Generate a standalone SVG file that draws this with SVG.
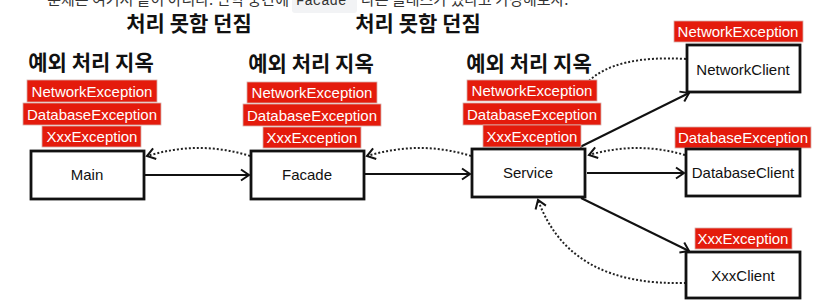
<svg xmlns="http://www.w3.org/2000/svg" width="815" height="302" viewBox="0 0 815 302">
<defs>
<style>
.bg{fill:#ffffff}
.box{fill:#ffffff;stroke:#111111;stroke-width:2.8}
.nt{font-family:"Liberation Sans",Arial,sans-serif;font-size:15px;fill:#111111;text-anchor:middle}
.lab{fill:#e41b0c;stroke:#d8b0ab;stroke-width:0.8}
.lt{font-family:"Liberation Sans",Arial,sans-serif;font-size:15px;fill:#ffffff;text-anchor:middle}
.hd{font-family:"Noto Sans CJK KR","Noto Sans",sans-serif;font-weight:bold;font-size:21px;fill:#111111;text-anchor:middle}
.top{font-family:"Noto Sans CJK KR","Noto Sans",sans-serif;font-size:15px;fill:#333333}
.code{font-family:"Liberation Mono","DejaVu Sans Mono",monospace;font-size:14px;fill:#333333}
.solid{fill:none;stroke:#111111;stroke-width:2;marker-end:url(#arr)}
.dot{fill:none;stroke:#222222;stroke-width:2;stroke-dasharray:2 2}
.dota{marker-end:url(#arr)}
</style>
<marker id="arr" markerUnits="userSpaceOnUse" markerWidth="14" markerHeight="14" viewBox="-10 -7 12 14" refX="0" refY="0" orient="auto">
<path d="M-8,-5.5 L0,0 L-8,5.5" fill="none" stroke="#111111" stroke-width="2"/>
</marker>
</defs>
<rect class="bg" x="0" y="0" width="815" height="302"/>

<g id="intro">
<text class="top" x="289" y="5" text-anchor="end">문제는 여기서 끝이 아니다. 만약 중간에</text>
<rect x="292" y="-10" width="65" height="23" rx="3" fill="#f2f3f5"/>
<text class="code" x="296" y="5">Facade</text>
<text class="top" x="361" y="5">라는 클래스가 있다고 가정해보자.</text>
</g>

<g id="headings">
<text class="hd" x="189" y="31">처리 못함 던짐</text>
<text class="hd" x="418" y="31">처리 못함 던짐</text>
<text class="hd" x="91" y="70">예외 처리 지옥</text>
<text class="hd" x="311" y="71">예외 처리 지옥</text>
<text class="hd" x="529" y="71">예외 처리 지옥</text>
</g>

<g id="connectors">
<path class="solid" d="M145,175 L249,175"/>
<path class="solid" d="M365,174 L470,174"/>
<path class="solid" d="M587,173 L684,173"/>
<path class="solid" d="M580,147 L689,93"/>
<path class="solid" d="M581,198 L689,251"/>
<path class="dot dota" d="M250,156 Q200,140 147,156"/>
<path class="dot dota" d="M471,156 Q420,140 367,156"/>
<path class="dot dota" d="M685,155 Q637,141 589,155"/>
<path class="dot" d="M686,59 C640,56 605,64 588,82"/>
<path class="dot dota" d="M686,283 C610,285 560,260 538,200"/>
</g>

<g id="main">
<rect class="lab" x="27" y="80" width="130" height="22"/>
<text class="lt" x="92" y="96.5">NetworkException</text>
<rect class="lab" x="23" y="103" width="138" height="22"/>
<text class="lt" x="92" y="119.5">DatabaseException</text>
<rect class="lab" x="42" y="126" width="99" height="21"/>
<text class="lt" x="92" y="142">XxxException</text>
<rect class="box" x="31" y="151" width="113" height="48"/>
<text class="nt" x="87" y="180">Main</text>
</g>

<g id="facade">
<rect class="lab" x="247" y="82" width="130" height="21"/>
<text class="lt" x="312" y="98">NetworkException</text>
<rect class="lab" x="243" y="104" width="138" height="22"/>
<text class="lt" x="312" y="120.5">DatabaseException</text>
<rect class="lab" x="263" y="127" width="98" height="21"/>
<text class="lt" x="312" y="143">XxxException</text>
<rect class="box" x="251" y="151" width="113" height="48"/>
<text class="nt" x="307" y="180">Facade</text>
</g>

<g id="service">
<rect class="lab" x="467" y="80" width="130" height="21"/>
<text class="lt" x="532" y="96">NetworkException</text>
<rect class="lab" x="463" y="103" width="138" height="22"/>
<text class="lt" x="532" y="119.5">DatabaseException</text>
<rect class="lab" x="483" y="125" width="98" height="22"/>
<text class="lt" x="532" y="141.5">XxxException</text>
<rect class="box" x="472" y="149" width="113" height="48"/>
<text class="nt" x="528" y="178">Service</text>
</g>

<g id="networkclient">
<rect class="lab" x="674" y="21" width="129" height="21"/>
<text class="lt" x="738" y="37">NetworkException</text>
<rect class="box" x="687" y="45" width="113" height="47"/>
<text class="nt" x="743" y="75">NetworkClient</text>
</g>

<g id="databaseclient">
<rect class="lab" x="675" y="127" width="136" height="21"/>
<text class="lt" x="743" y="143">DatabaseException</text>
<rect class="box" x="686" y="149" width="114" height="47"/>
<text class="nt" x="743" y="178">DatabaseClient</text>
</g>

<g id="xxxclient">
<rect class="lab" x="695" y="228" width="97" height="21"/>
<text class="lt" x="743" y="244">XxxException</text>
<rect class="box" x="686" y="252" width="114" height="46"/>
<text class="nt" x="743" y="281">XxxClient</text>
</g>
</svg>
